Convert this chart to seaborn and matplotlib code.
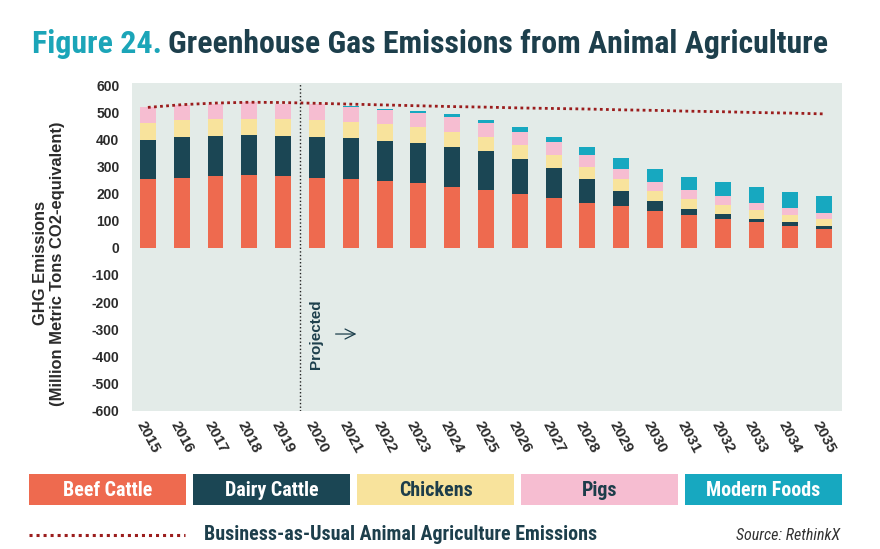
import numpy as np
import matplotlib
matplotlib.use("Agg")
import matplotlib.pyplot as plt
import seaborn as sns
from matplotlib.patches import Rectangle
from matplotlib.lines import Line2D

years = list(range(2015, 2036))
year_labels = [str(y) for y in years]
beef = [254, 259, 265, 269, 265, 259, 254, 248, 239, 226, 213, 199, 185, 166, 155, 136, 121, 108, 96, 82, 69]
dairy = [143, 149, 148, 148, 148, 148, 150, 147, 146, 147, 143, 130, 109, 88, 56, 37, 21, 16, 12, 13, 13]
chickens = [64, 63, 61, 60, 61, 63, 61, 60, 59, 55, 54, 50, 49, 45, 44, 36, 39, 35, 33, 26, 24]
pigs = [57, 55, 58, 60, 58, 59, 56, 54, 52, 53, 49, 47, 47, 43, 36, 35, 31, 31, 26, 27, 24]
modern = [0, 0, 0, 0, 0, 0, 2, 4, 7, 11, 12, 21, 20, 31, 40, 48, 49, 52, 56, 59, 60]
bau = [518, 528, 534, 537, 536, 533, 530, 527, 524, 521, 519, 516, 514, 512, 509, 507, 504, 502, 499, 497, 494]
series_names = ["Beef Cattle", "Dairy Cattle", "Chickens", "Pigs", "Modern Foods"]
yticks = list(range(-600, 601, 100))

colors = ["#ee6a4f", "#1b4654", "#f8e39c", "#f6bdd1", "#17a8c0"]
text_cols = ["white", "white", "#1d3d4a", "#1d3d4a", "white"]
DARK = "#1d3f4c"
TEAL = "#1ba5b8"

sns.set_theme(style="white")
plt.rcParams["font.family"] = ["Liberation Sans", "DejaVu Sans"]
NARROW = ["Roboto Condensed", "Liberation Sans Narrow", "Liberation Sans", "DejaVu Sans"]

W, H = 880, 549
fig = plt.figure(figsize=(W / 100, H / 100), dpi=100)
renderer = fig.canvas.get_renderer()
ax = fig.add_axes([132 / W, 138 / H, 710 / W, 328 / H])
ax.set_facecolor("#e3ebe8")


def fit_size(text, target_px, base=20, **kw):
    t = fig.text(0, 0, text, fontsize=base, **kw)
    w = t.get_window_extent(renderer).width
    t.remove()
    return base * target_px / w


# stacked bars: draw cumulative tops from the largest down
layers = [beef, dairy, chickens, pigs, modern]
cum = np.zeros(len(years))
tops = []
for vals in layers:
    cum = cum + np.array(vals, dtype=float)
    tops.append(cum.copy())
for top, c in reversed(list(zip(tops, colors))):
    sns.barplot(x=years, y=top, color=c, saturation=1, width=0.47,
                native_scale=True, linewidth=0, ax=ax)

sns.lineplot(x=years, y=bau, ax=ax, color="#9b1d1d", linewidth=2.0,
             linestyle=(0, (1, 1.2)))

ax.axvline(2019.5, color="#222222", linewidth=1.0, linestyle=(0, (1, 1.6)))
ax.text(2019.97, -317, "Projected", rotation=90, ha="center", va="center",
        fontsize=11, fontweight="bold", color=DARK)
ax.annotate("", xy=(2021.25, -318), xytext=(2020.47, -318),
            arrowprops=dict(arrowstyle="->,head_length=0.6,head_width=0.3",
                            color=DARK, lw=0.9))

ax.set_xlim(2015 - 0.47, 2035 + 0.53)
ax.set_ylim(-602, 608)
ax.set_yticks(yticks)
ax.set_yticklabels([str(v) for v in yticks], fontweight="bold", fontsize=10,
                   color="#2b2b2b")
ax.set_xticks(years)
ax.set_xticklabels(year_labels, rotation=-62, ha="center", va="top",
                   fontweight="bold", fontsize=11, color="#2b2b2b")
ax.tick_params(axis="y", length=0, pad=9)
ax.tick_params(axis="x", length=0, pad=6)
for s in ax.spines.values():
    s.set_visible(False)
ax.set_xlabel("")
ax.set_ylabel("GHG Emissions\n(Million Metric Tons CO2-equivalent)",
              fontweight="bold", fontsize=11.9, color="#2b2b2b", linespacing=1.15)
ax.yaxis.set_label_coords(-0.094, 0.45)

# title in two colours
title_a = "Figure 24."
title_b = "Greenhouse Gas Emissions from Animal Agriculture"
tsize = fit_size(title_a + " " + title_b, 795, fontweight="bold", family=NARROW)
t1 = fig.text(32 / W, 1 - 53 / H, title_a, color=TEAL, fontsize=tsize,
              fontweight="bold", family=NARROW, va="baseline")
bb = t1.get_window_extent(renderer)
t2 = fig.text((bb.x1 + 6) / W, 1 - 53 / H, title_b, color=DARK,
              fontsize=tsize, fontweight="bold", family=NARROW, va="baseline")

# legend boxes
lsize = fit_size("Beef Cattle", 89, fontweight="bold", family=NARROW)
bx0, bw, gap = 29, 157, 7
for i, (name, c, tc) in enumerate(zip(series_names, colors, text_cols)):
    x0 = bx0 + i * (bw + gap)
    fig.add_artist(Rectangle((x0 / W, 1 - 505 / H), bw / W, 31 / H,
                             transform=fig.transFigure, color=c, lw=0))
    fig.text((x0 + bw / 2) / W, 1 - 490 / H, name, ha="center", va="center",
             color=tc, fontsize=lsize, fontweight="bold", family=NARROW)

fig.add_artist(Line2D([29 / W, 185 / W], [1 - 535 / H, 1 - 535 / H],
                      transform=fig.transFigure, color="#9b1d1d", lw=2.2,
                      linestyle=(0, (1, 1.3))))
bau_text = "Business-as-Usual Animal Agriculture Emissions"
bsize = fit_size(bau_text, 392, fontweight="bold", family=NARROW)
fig.text(204 / W, 1 - 534 / H, bau_text, ha="left", va="center", color=DARK,
         fontsize=bsize, fontweight="bold", family=NARROW)
ssize = fit_size("Source: RethinkX", 104, fontstyle="italic", family=NARROW)
fig.text(840 / W, 1 - 535 / H, "Source: RethinkX", ha="right", va="center",
         color="#333333", fontsize=ssize, fontstyle="italic", family=NARROW)

fig.savefig("out.png", dpi=100, facecolor="white")
